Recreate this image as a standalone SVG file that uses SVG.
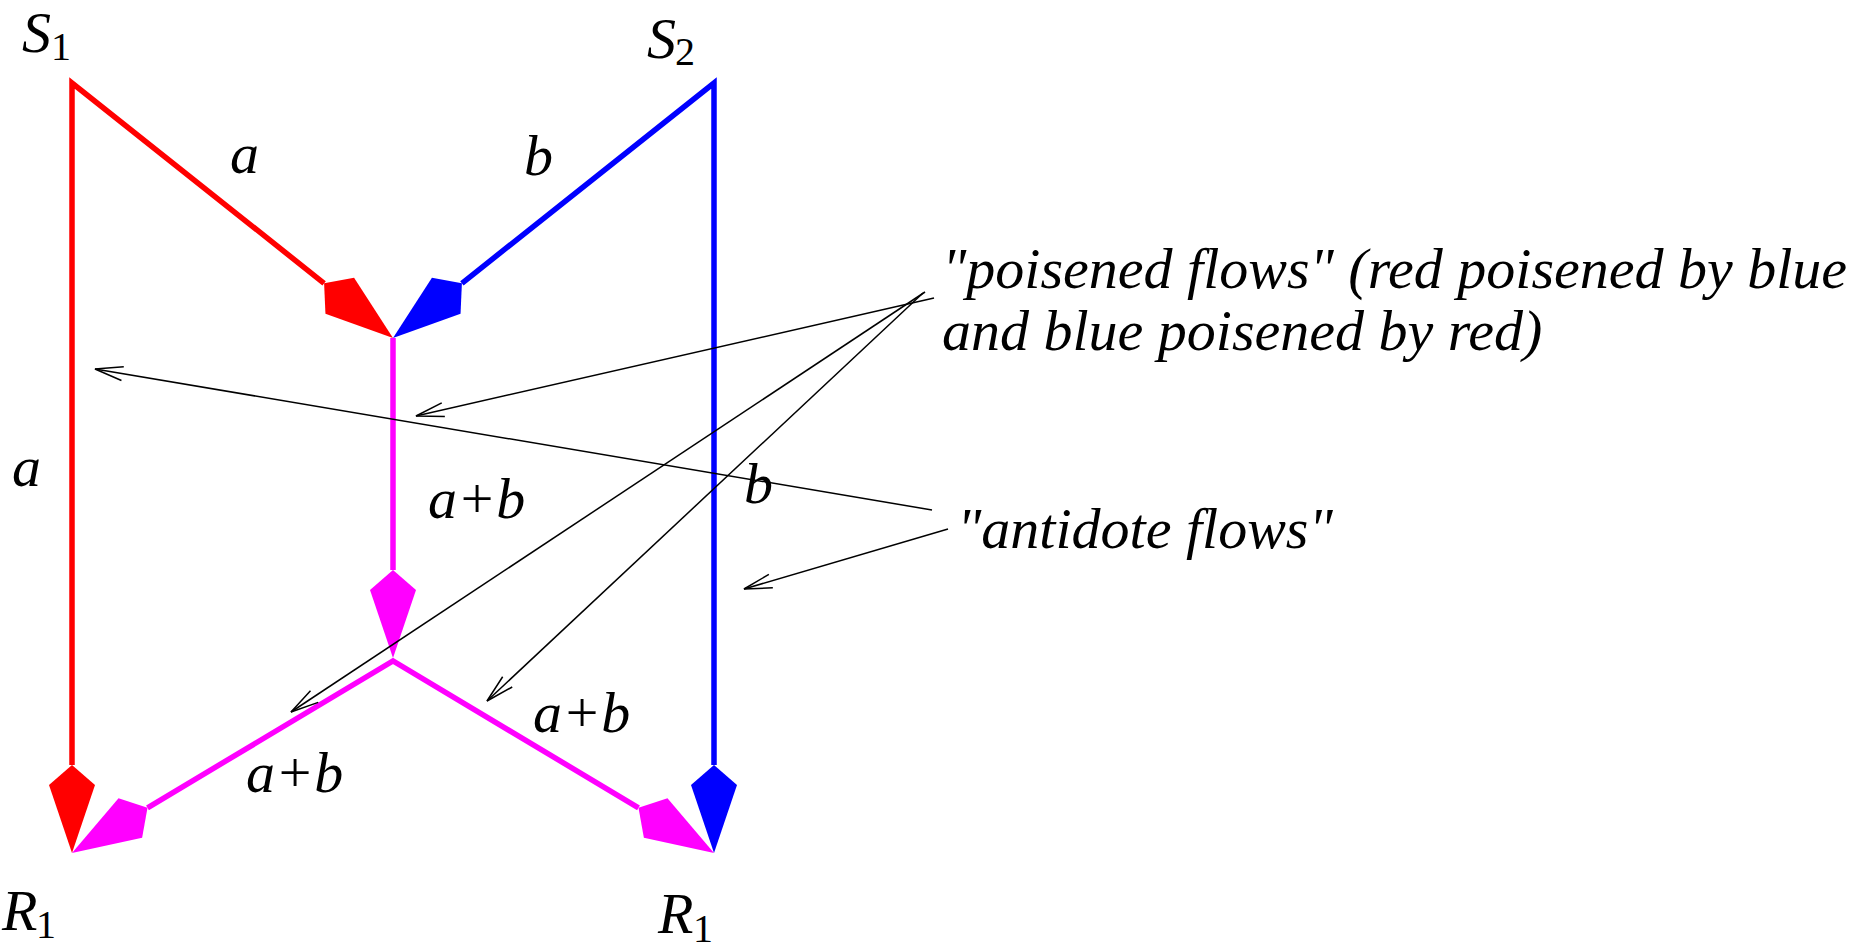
<svg xmlns="http://www.w3.org/2000/svg" width="1859" height="948" viewBox="0 0 1859 948">
<style>
  text { font-family: "Liberation Serif", "Times New Roman", serif; font-style: italic; font-size: 58px; fill: #000; }
  .sub { font-style: normal; font-size: 40px; }
  .edge { fill: none; stroke-width: 5.5; stroke-linejoin: miter; stroke-linecap: butt; }
  .red { stroke: #ff0000; }
  .blue { stroke: #0000ff; }
  .mag { stroke: #ff00ff; }
  .ann { fill: none; stroke: #000; stroke-width: 1.5; }
</style>
<defs>
  <marker id="kR" markerUnits="userSpaceOnUse" orient="auto-start-reverse" refX="0" refY="0" markerWidth="90" markerHeight="50" overflow="visible">
    <path d="M0,0 L20,-23 L88,0 L20,23 Z" fill="#ff0000"/>
  </marker>
  <marker id="kB" markerUnits="userSpaceOnUse" orient="auto-start-reverse" refX="0" refY="0" markerWidth="90" markerHeight="50" overflow="visible">
    <path d="M0,0 L20,-23 L88,0 L20,23 Z" fill="#0000ff"/>
  </marker>
  <marker id="kM" markerUnits="userSpaceOnUse" orient="auto-start-reverse" refX="0" refY="0" markerWidth="90" markerHeight="50" overflow="visible">
    <path d="M0,0 L20,-23 L88,0 L20,23 Z" fill="#ff00ff"/>
  </marker>
  <marker id="open" markerUnits="userSpaceOnUse" orient="auto" refX="0" refY="0" markerWidth="30" markerHeight="20" overflow="visible">
    <path d="M-28,-7 L0,0 L-28,7" fill="none" stroke="#000" stroke-width="1.5"/>
  </marker>
</defs>

<g id="connectors">
  <path id="e-red" class="edge red" d="M72,765 L72,83 L324.1,283.3" marker-start="url(#kR)" marker-end="url(#kR)"/>
  <path id="e-blue" class="edge blue" d="M714,765 L714,83 L461.9,283.3" marker-start="url(#kB)" marker-end="url(#kB)"/>
  <path id="e-mag-v" class="edge mag" d="M393,338 L393,570" marker-end="url(#kM)"/>
  <path id="e-mag-b" class="edge mag" d="M147.5,807.8 L393,661 L638.5,807.8" marker-start="url(#kM)" marker-end="url(#kM)"/>
  <text x="230" y="173">a</text>
  <text x="524" y="175">b</text>
  <text x="12" y="486">a</text>
  <text x="428" y="518">a+b</text>
  <text x="744" y="503">b</text>
  <text x="533" y="732">a+b</text>
  <text x="246" y="792">a+b</text>
</g>

<g id="node-S1"><text x="22" y="52">S<tspan class="sub" x="51" y="60">1</tspan></text></g>
<g id="node-S2"><text x="647" y="58">S<tspan class="sub" x="675" y="65">2</tspan></text></g>
<g id="node-R1-left"><text x="2" y="930">R<tspan class="sub" x="36" y="938">1</tspan></text></g>
<g id="node-R1-right"><text x="658" y="933">R<tspan class="sub" x="693" y="942">1</tspan></text></g>

<g id="annotations">
  <path class="ann" d="M934,298 L416,416" marker-end="url(#open)"/>
  <path class="ann" d="M925,292 L291,712" marker-end="url(#open)"/>
  <path class="ann" d="M923,293 L487,701" marker-end="url(#open)"/>
  <path class="ann" d="M932,510 L95,369" marker-end="url(#open)"/>
  <path class="ann" d="M948,529 L744,589" marker-end="url(#open)"/>
  <text x="942" y="288">"poisened flows" (red poisened by blue</text>
  <text x="942" y="350">and blue poisened by red)</text>
  <text x="957" y="548">"antidote flows"</text>
</g>
</svg>
